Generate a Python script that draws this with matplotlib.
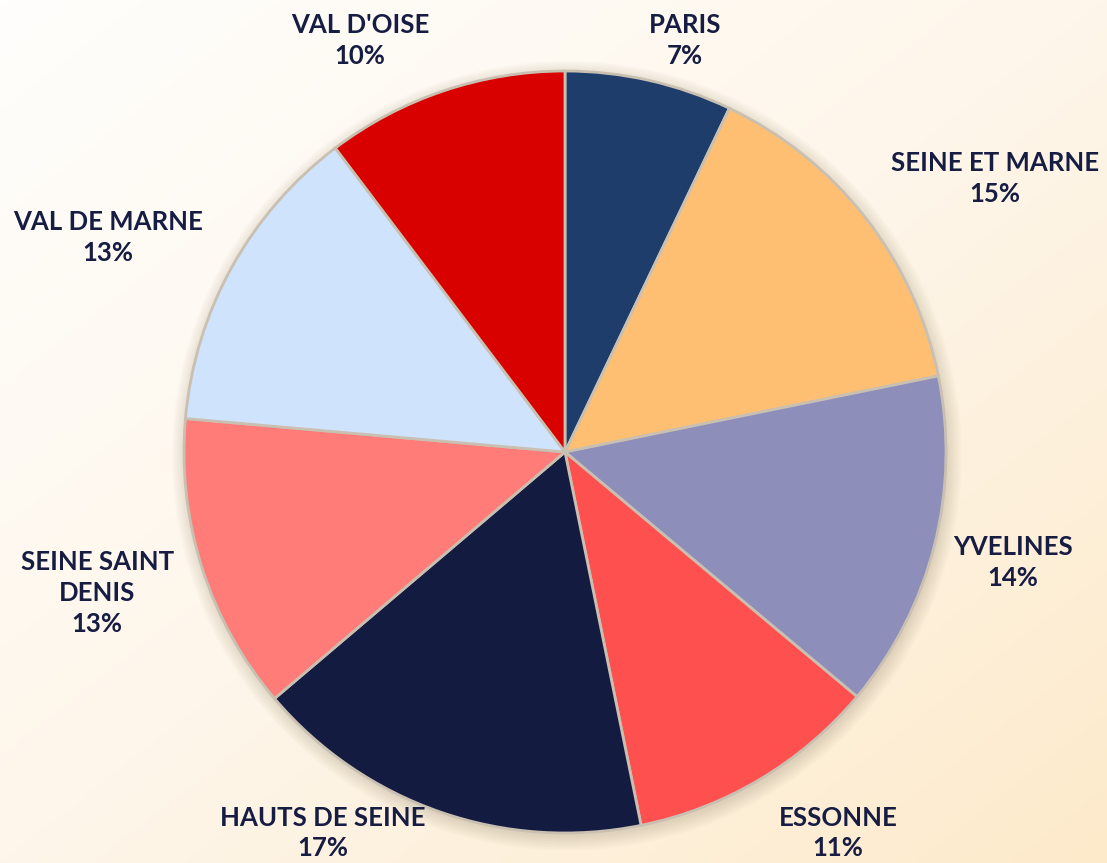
import numpy as np
import matplotlib.pyplot as plt
from matplotlib.colors import LinearSegmentedColormap
from matplotlib.patches import Circle

# data
departements = ["PARIS", "SEINE ET MARNE", "YVELINES", "ESSONNE",
                "HAUTS DE SEINE", "SEINE SAINT\nDENIS", "VAL DE MARNE", "VAL D'OISE"]
parts = [7.1, 14.7, 14.3, 10.7, 17.0, 12.6, 13.3, 10.3]
couleurs = ["#1E3D6B", "#FFBF73", "#8E8EBB", "#FF5050",
            "#141B40", "#FF7C78", "#CFE4FC", "#D90000"]

# label spots in radius units (layout)
label_pos = [(0.315, 1.081), (1.129, 0.719), (1.176, -0.289), (0.717, -1.0),
             (-0.635, -1.0), (-1.228, -0.370), (-1.2, 0.562), (-0.538, 1.081)]

W, H = 1107, 863
cx, cy, R = 565, 452, 381

fig = plt.figure(figsize=(W / 100, H / 100), dpi=100)

# background gradient
bg = fig.add_axes([0, 0, 1, 1])
bg.axis("off")
xx, yy = np.meshgrid(np.linspace(0, 1, 300), np.linspace(0, 1, 300))
grad = (xx + yy) / 2
cmap = LinearSegmentedColormap.from_list("bg", ["#FFFEFC", "#FEF6EA", "#FDEACB"])
bg.imshow(grad, cmap=cmap, aspect="auto", extent=[0, 1, 0, 1], origin="upper")
bg.set_xlim(0, 1)
bg.set_ylim(0, 1)

ax = fig.add_axes([0, 0, 1, 1])
ax.axis("off")

# soft shadow
for i in range(10):
    ax.add_patch(Circle((0.005, -0.01), 1.0 + i * 0.004, color="#6B5A40",
                        alpha=0.02, lw=0, zorder=0))

wedges, _ = ax.pie(parts, colors=couleurs, startangle=90, counterclock=False,
                   radius=1.0, center=(0, 0), frame=True,
                   wedgeprops=dict(edgecolor="#C9C0B2", linewidth=2))
ax.axis("off")
ax.set_aspect("equal")
ax.set_xlim(-cx / R, (W - cx) / R)
ax.set_ylim(-(H - cy) / R, cy / R)

total = sum(parts)
for nom, v, (lx, ly) in zip(departements, parts, label_pos):
    ax.text(lx, ly, f"{nom}\n{round(v / total * 100)}%", ha="center", va="center",
            fontsize=18.5, fontweight="bold", family="Lato", color="#161C42",
            linespacing=1.35, zorder=5)

fig.savefig("out.png", dpi=100)
